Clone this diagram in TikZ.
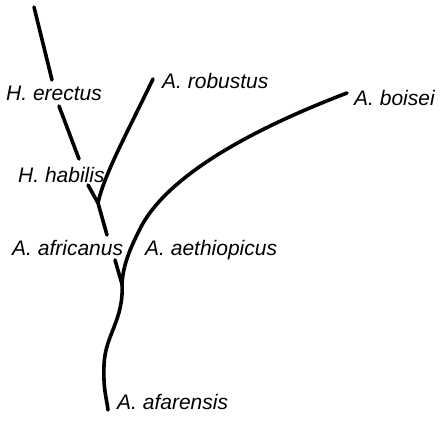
\documentclass[tikz,border=0pt]{standalone}
\usepackage{fontspec}
\setmainfont{Liberation Sans}
\usetikzlibrary{positioning}

\begin{document}
\begin{tikzpicture}[
  x=1pt, y=-1pt,
  every node/.style={font=\fontsize{21}{25}\selectfont\itshape},
  sp/.style={anchor=base west, inner sep=0pt},
  br/.style={line width=3.6pt, line cap=round},
]
\useasboundingbox (0,0) rectangle (442,424);

% species labels
\node[sp] (erectus)  at (6,100)   {H. erectus};
\node[sp] (robustus) at (162,88)  {A. robustus};
\node[sp] (boisei)   at (354,105) {A. boisei};
\node[sp] (habilis)  at (18,182)  {H. habilis};
\node[sp] (african)  at (12,255)  {A. africanus};
\node[sp] (aethiop)  at (145,255) {A. aethiopicus};
\node[sp] (afar)     at (117,409) {A. afarensis};

% branch ends and forks
\coordinate (erTop) at (34,7);
\coordinate (erBot) at (52,80);
\coordinate (haTop) at (59,106);
\coordinate (haBot) at (79,159);
\coordinate (afTop) at (88,185);
\coordinate (f1)    at (98,203);
\coordinate (afBot) at (107,235);
\coordinate (roTop) at (153,79);
\coordinate (anTop) at (115,260);
\coordinate (f2)    at (122,284);
\coordinate (boTop) at (347,93);
\coordinate (root)  at (108,410);

\draw[br] (erTop) -- (erBot);
\draw[br] (haTop) -- (haBot);
\draw[br] (afTop) -- (f1) -- (afBot);
\draw[br] (roTop) .. controls (126,135) and (104,175) .. (f1);
\draw[br] (anTop) -- (f2);
\draw[br] (boTop) .. controls (250,130) and (170,175) .. (142,225)
          .. controls (130,248) and (123,265) .. (f2);
\draw[br] (f2) .. controls (124,320) and (105,335) .. (104,365)
          .. controls (103,390) and (107,400) .. (root);
\end{tikzpicture}
\end{document}
